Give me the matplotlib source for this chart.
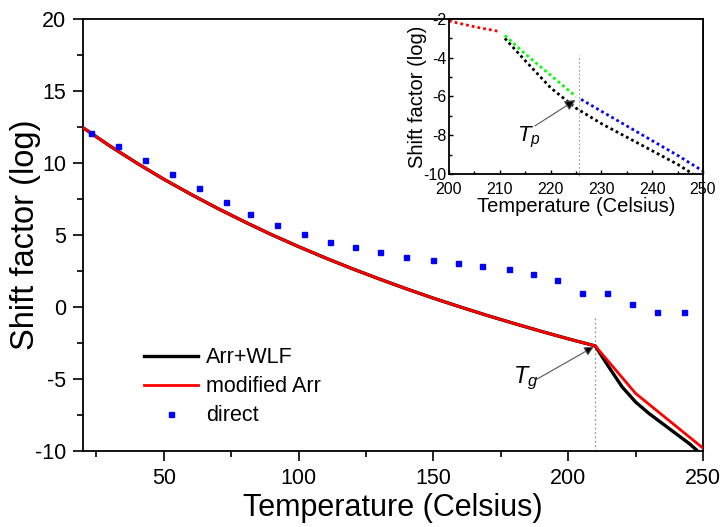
import matplotlib
matplotlib.use('Agg')
import matplotlib.pyplot as plt
from matplotlib.ticker import MultipleLocator

plt.rcParams['font.family'] = ['Liberation Sans', 'DejaVu Sans']
plt.rcParams['mathtext.fontset'] = 'custom'
plt.rcParams['mathtext.it'] = 'Liberation Sans:italic'
plt.rcParams['mathtext.rm'] = 'Liberation Sans'
plt.rcParams['axes.unicode_minus'] = False

# ---------------- data (main panel) ----------------
temp_below_tg = [20, 30, 40, 50, 60, 70, 80, 90, 100, 110, 120, 130, 140,
                 150, 160, 170, 180, 190, 200, 210]
shift_below_tg = [12.45, 11.18, 9.99, 8.87, 7.83, 6.84, 5.91, 5.02, 4.19,
                  3.40, 2.65, 1.94, 1.26, 0.61, 0.0, -0.59, -1.15, -1.69,
                  -2.21, -2.70]

temp_wlf_above = [210, 215, 220, 225, 230, 235, 240, 245, 248]
shift_wlf_above = [-2.7, -4.15, -5.55, -6.6, -7.4, -8.1, -8.8, -9.5, -10.0]

temp_mod_above = [210, 215, 220, 225, 230, 235, 240, 245, 250]
shift_mod_above = [-2.7, -3.8, -4.9, -6.0, -6.76, -7.52, -8.28, -9.04, -9.8]

direct_temp = [23, 33, 43, 53, 63, 73, 82, 92, 102, 111.5, 121, 130, 140,
               150, 159, 168, 178, 187, 196, 205, 214.5, 223.5, 233, 243]
direct_shift = [12.05, 11.2, 10.2, 9.25, 8.25, 7.3, 6.45, 5.7, 5.05, 4.5,
                4.15, 3.8, 3.5, 3.27, 3.04, 2.85, 2.62, 2.27, 1.85, 1.0,
                1.0, 0.2, -0.33, -0.33]

tg_temp = 210
tp_temp = 225.5

# ---------------- data (inset) ----------------
inset_red_temp = [200, 205, 210]
inset_red_shift = [-2.1, -2.4, -2.65]
inset_green_temp = [211, 215, 220, 225]
inset_green_shift = [-2.85, -3.8, -4.9, -6.0]
inset_blue_temp = [226, 230, 235, 240, 245, 250]
inset_blue_shift = [-6.15, -6.76, -7.52, -8.28, -9.04, -9.85]
inset_black_temp = [211, 215, 220, 225, 230, 235, 240, 245, 248]
inset_black_shift = [-3.0, -4.15, -5.55, -6.6, -7.4, -8.1, -8.8, -9.5, -10.0]

fig = plt.figure(figsize=(7.21, 5.27), dpi=100)
ax = fig.add_axes([83/721, (527-451)/527, (703-83)/721, (451-19)/527])

black_T = temp_below_tg + temp_wlf_above[1:]
black_S = shift_below_tg + shift_wlf_above[1:]
red_T = temp_below_tg + temp_mod_above[1:]
red_S = shift_below_tg + shift_mod_above[1:]

ax.plot(black_T, black_S, color='black', lw=2.4, label='Arr+WLF', zorder=3)
ax.plot(red_T, red_S, color='#ff0000', lw=2.0, label='modified Arr', zorder=4)
ax.plot(direct_temp, direct_shift, ls='none', marker='s', ms=3.6,
        color='#0000ff', mec='#0000ff', label='direct', zorder=5)

ax.plot([tg_temp, tg_temp], [-10, -0.7], color='#999999', lw=0.9,
        ls=(0, (1.5, 2)), zorder=2)

ax.set_xlim(20, 250)
ax.set_ylim(-10, 20)
ax.xaxis.set_major_locator(MultipleLocator(50))
ax.xaxis.set_minor_locator(MultipleLocator(25))
ax.yaxis.set_major_locator(MultipleLocator(5))
ax.yaxis.set_minor_locator(MultipleLocator(2.5))
ax.tick_params(which='major', direction='out', length=7, width=1.2,
               labelsize=15.5, pad=5)
ax.tick_params(which='minor', direction='out', length=4, width=1.2)
for s in ax.spines.values():
    s.set_linewidth(1.3)
ax.set_xlabel('Temperature (Celsius)', fontsize=22, labelpad=3)
ax.set_ylabel('Shift factor (log)', fontsize=23.5)
ax.yaxis.set_label_coords(-0.068, 0.5)

ax.annotate('', xy=(209.5, -2.76), xytext=(188.3, -5.02),
            arrowprops=dict(arrowstyle='-|>', color='#555555', lw=0.8,
                            mutation_scale=14, shrinkA=0, shrinkB=0,
                            fc='black', ec='#555555'))
ax.text(179.6, -5.3, r'$T_g$', fontsize=17, ha='left', va='baseline')

leg = ax.legend(loc='lower left', bbox_to_anchor=(0.067, 0.012), frameon=False,
                fontsize=15.5, handlelength=2.5, handletextpad=0.4,
                labelspacing=0.38, markerscale=1.0)

# ---------------- inset ----------------
ins = fig.add_axes([449/721, (527-174)/527, 254/721, 155/527])
ins.set_facecolor('white')
dot = (0, (1, 1.1))
ins.plot(inset_red_temp, inset_red_shift, color='#ff0000', lw=2.0, ls=dot)
ins.plot(inset_black_temp, inset_black_shift, color='black', lw=2.0, ls=dot)
ins.plot(inset_green_temp, inset_green_shift, color='#00ff00', lw=2.0, ls=dot)
ins.plot(inset_blue_temp, inset_blue_shift, color='#0000ff', lw=2.0, ls=dot)
ins.plot([tp_temp, tp_temp], [-10.1, -3.85], color='#999999', lw=0.8,
         ls=(0, (1.5, 2)), clip_on=False)
ins.set_xlim(200, 250)
ins.set_ylim(-10, -2)
ins.xaxis.set_major_locator(MultipleLocator(10))
ins.xaxis.set_minor_locator(MultipleLocator(5))
ins.yaxis.set_major_locator(MultipleLocator(2))
ins.yaxis.set_minor_locator(MultipleLocator(1))
ins.tick_params(which='major', direction='in', length=3, width=1.0,
                labelsize=11.5, pad=2)
ins.tick_params(which='minor', direction='in', length=2, width=1.0)
ins.tick_params(axis='x', which='major', pad=5.5)
for s in ins.spines.values():
    s.set_linewidth(1.3)
ins.set_xlabel('Temperature (Celsius)', fontsize=14.5, labelpad=0.5)
ins.set_ylabel('Shift factor (log)', fontsize=14.5)
ins.yaxis.set_label_coords(-0.087, 0.5)
ins.annotate('', xy=(224.9, -6.18), xytext=(216.9, -7.52),
             arrowprops=dict(arrowstyle='-|>', color='#555555', lw=0.8,
                             mutation_scale=16, shrinkA=0, shrinkB=0,
                             fc='black', ec='#555555'))
ins.text(213.3, -8.33, r'$T_p$', fontsize=16, ha='left', va='baseline')

fig.savefig('out.png', dpi=100)
